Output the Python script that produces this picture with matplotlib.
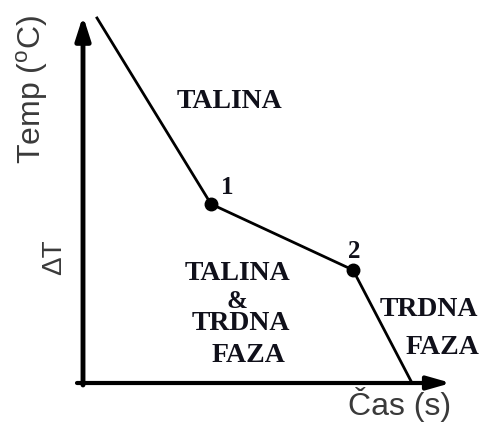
import matplotlib
matplotlib.use("Agg")
import matplotlib.pyplot as plt

# Cooling curve data (arbitrary units)
time = [14, 128, 270, 329]
temp = [365, 179, 113, 0]
point_idx = [1, 2]
point_labels = ["1", "2"]

plt.rcParams['mathtext.fontset'] = 'custom'
plt.rcParams['mathtext.rm'] = 'Liberation Sans'

fig = plt.figure(figsize=(4.81, 4.25), dpi=100)
ax = fig.add_axes([0, 0, 1, 1])
ax.set_xlim(-83, 398)
ax.set_ylim(-42, 383)
ax.axis('off')

# axes with arrows
ax.annotate('', xy=(0, 367), xytext=(0, -2),
            arrowprops=dict(arrowstyle='-|>,head_length=1.4,head_width=0.45',
                            lw=3.5, color='black', shrinkA=0, shrinkB=0))
ax.annotate('', xy=(368, 0), xytext=(-6, 0),
            arrowprops=dict(arrowstyle='-|>,head_length=1.4,head_width=0.4',
                            lw=3.0, color='black', shrinkA=0, shrinkB=0))

ax.plot(time, temp, color='black', lw=2)
ax.plot([time[i] for i in point_idx], [temp[i] for i in point_idx], 'o',
        color='black', ms=9)

serif = dict(family='Liberation Serif', weight='bold', color='#10101a',
             ha='center', va='center')
ax.text(144, 196, point_labels[0], fontsize=18, **serif)
ax.text(271, 131, point_labels[1], fontsize=18, **serif)
ax.text(147, 282, 'TALINA', fontsize=20, **serif)
ax.text(155, 110, 'TALINA', fontsize=20, **serif)
ax.text(154, 82, '&', fontsize=18, **serif)
ax.text(158, 59, 'TRDNA', fontsize=20, **serif)
ax.text(165, 28, 'FAZA', fontsize=20, **serif)
ax.text(346, 73, 'TRDNA', fontsize=20, **serif)
ax.text(359, 35, 'FAZA', fontsize=20, **serif)

sans = dict(family='Liberation Sans', color='#3a3a3a', ha='center', va='center')
ax.text(317, -22, 'Čas (s)', fontsize=23, **sans)
ax.text(-51, 293, r'Temp ($^\mathregular{o}$C)', fontsize=23, rotation=90, **sans)
ax.text(-29, 126, 'ΔT', fontsize=20, rotation=90, **sans)

fig.savefig('out.png', dpi=100)
